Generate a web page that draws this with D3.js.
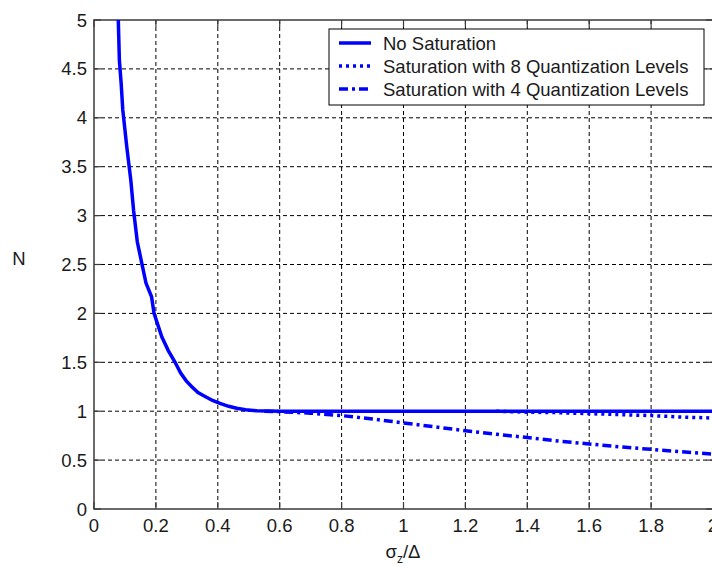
<!DOCTYPE html>
<html>

<head>
    <meta charset="utf-8">
    <style>
        body {
            margin: 0;
            background: #fff;
        }

        svg {
            display: block;
            font-family: "Liberation Sans", Arial, sans-serif;
        }

        .tick-label {
            font-size: 18.5px;
            fill: #1a1a1a;
        }
    </style>
</head>

<body>
    <svg width="712" height="566"></svg>
</body>

<script src="https://d3js.org/d3.v7.min.js"></script>

<script>
    // values
    let xTicks = [0, 0.2, 0.4, 0.6, 0.8, 1, 1.2, 1.4, 1.6, 1.8, 2]
    let yTicks = [0, 0.5, 1, 1.5, 2, 2.5, 3, 3.5, 4, 4.5, 5]

    let noSatX = [0.0785, 0.082, 0.088, 0.093, 0.106, 0.119, 0.128, 0.14, 0.154, 0.168, 0.186, 0.194, 0.219, 0.24, 0.262, 0.28, 0.298, 0.316, 0.336, 0.359, 0.383, 0.407, 0.435, 0.461, 0.49, 0.526, 0.6, 0.8, 1, 1.2, 1.4, 1.6, 1.8, 2]
    let noSatN = [5.0, 4.59, 4.34, 4.08, 3.70, 3.36, 3.05, 2.73, 2.52, 2.31, 2.17, 2.0, 1.76, 1.62, 1.50, 1.39, 1.31, 1.25, 1.19, 1.15, 1.11, 1.08, 1.05, 1.03, 1.015, 1.005, 1.0, 1.0, 1.0, 1.0, 1.0, 1.0, 1.0, 1.0]

    let sat8X = [1.3, 1.4, 1.5, 1.6, 1.7, 1.8, 1.9, 2]
    let sat8N = [1.0, 0.99, 0.985, 0.975, 0.965, 0.955, 0.94, 0.93]

    let sat4X = [0.55, 0.6, 0.7, 0.8, 0.9, 1, 1.1, 1.2, 1.3, 1.4, 1.5, 1.6, 1.7, 1.8, 1.9, 2]
    let sat4N = [1.0, 0.995, 0.98, 0.955, 0.92, 0.88, 0.84, 0.80, 0.765, 0.73, 0.695, 0.665, 0.635, 0.61, 0.585, 0.56]

    let legendLabels = ["No Saturation", "Saturation with 8 Quantization Levels", "Saturation with 4 Quantization Levels"]
    let legendDash = ["none", "3,4", "9,4,3,4"]

    let svg = d3.select("svg")

    let pLeft = 94, pRight = 713, pTop = 20, pBottom = 509

    let x = d3.scaleLinear().domain([0, 2]).range([pLeft, pRight])
    let y = d3.scaleLinear().domain([0, 5]).range([pBottom, pTop])

    // dashed grid
    svg.selectAll(".vgrid")
        .data(xTicks.slice(1, -1))
        .join("line")
        .attr("x1", d => x(d)).attr("x2", d => x(d))
        .attr("y1", pTop).attr("y2", pBottom)
        .style("stroke", "#000")
        .style("stroke-width", 1)
        .style("stroke-dasharray", "4,3")

    svg.selectAll(".hgrid")
        .data(yTicks.slice(1, -1))
        .join("line")
        .attr("x1", pLeft).attr("x2", pRight)
        .attr("y1", d => y(d)).attr("y2", d => y(d))
        .style("stroke", "#000")
        .style("stroke-width", 1)
        .style("stroke-dasharray", "4,3")

    // box + inward ticks
    let axisColor = "#3a3a3a"
    svg.append("rect")
        .attr("x", pLeft).attr("y", pTop)
        .attr("width", pRight - pLeft).attr("height", pBottom - pTop)
        .style("fill", "none")
        .style("stroke", axisColor)
        .style("stroke-width", 1.5)

    let tickLen = 7
    xTicks.forEach(t => {
        svg.append("line").attr("x1", x(t)).attr("x2", x(t)).attr("y1", pBottom).attr("y2", pBottom - tickLen)
            .style("stroke", axisColor).style("stroke-width", 1.2)
        svg.append("line").attr("x1", x(t)).attr("x2", x(t)).attr("y1", pTop).attr("y2", pTop + tickLen)
            .style("stroke", axisColor).style("stroke-width", 1.2)
    })
    yTicks.forEach(t => {
        svg.append("line").attr("x1", pLeft).attr("x2", pLeft + tickLen).attr("y1", y(t)).attr("y2", y(t))
            .style("stroke", axisColor).style("stroke-width", 1.2)
        svg.append("line").attr("x1", pRight).attr("x2", pRight - tickLen).attr("y1", y(t)).attr("y2", y(t))
            .style("stroke", axisColor).style("stroke-width", 1.2)
    })

    svg.selectAll(".xlab")
        .data(xTicks)
        .join("text")
        .attr("class", "tick-label")
        .attr("x", d => x(d))
        .attr("y", pBottom + 23)
        .attr("text-anchor", "middle")
        .text(d => d)

    svg.selectAll(".ylab")
        .data(yTicks)
        .join("text")
        .attr("class", "tick-label")
        .attr("x", pLeft - 7)
        .attr("y", d => y(d) + 6.5)
        .attr("text-anchor", "end")
        .text(d => d)

    // axis titles
    svg.append("text")
        .attr("class", "tick-label")
        .attr("x", 19).attr("y", 265)
        .attr("text-anchor", "middle")
        .text("N")

    let xt = svg.append("text")
        .attr("class", "tick-label")
        .attr("x", 403).attr("y", 558)
        .attr("text-anchor", "middle")
    xt.append("tspan").text("σ")
    xt.append("tspan").attr("dy", 5).style("font-size", "12px").text("z")
    xt.append("tspan").attr("dy", -5).text("/Δ")

    // curves
    let line = d3.line().x(d => x(d[0])).y(d => y(d[1]))
    let series = [
        d3.zip(noSatX, noSatN),
        d3.zip(sat8X, sat8N),
        d3.zip(sat4X, sat4N)
    ]

    svg.append("clipPath").attr("id", "plot-clip")
        .append("rect").attr("x", pLeft).attr("y", pTop - 2).attr("width", pRight - pLeft).attr("height", pBottom - pTop + 2)

    svg.selectAll(".curve")
        .data(series)
        .join("path")
        .attr("class", "curve")
        .attr("clip-path", "url(#plot-clip)")
        .attr("d", line)
        .style("fill", "none")
        .style("stroke", "#0000ff")
        .style("stroke-width", 3.5)
        .style("stroke-dasharray", (d, i) => legendDash[i])

    // legend
    let lg = svg.append("g")
    lg.append("rect")
        .attr("x", 329).attr("y", 29)
        .attr("width", 375).attr("height", 76)
        .style("fill", "#fff")
        .style("stroke", "#000")
        .style("stroke-width", 1)

    let rowY = [43, 66, 89]
    lg.selectAll(".lg-line")
        .data(legendLabels)
        .join("line")
        .attr("x1", 339).attr("x2", 371)
        .attr("y1", (d, i) => rowY[i]).attr("y2", (d, i) => rowY[i])
        .style("stroke", "#0000ff")
        .style("stroke-width", 3.5)
        .style("stroke-dasharray", (d, i) => legendDash[i])

    lg.selectAll(".lg-text")
        .data(legendLabels)
        .join("text")
        .attr("class", "tick-label")
        .attr("x", 383)
        .attr("y", (d, i) => rowY[i] + 6.5)
        .text(d => d)
</script>

</html>
